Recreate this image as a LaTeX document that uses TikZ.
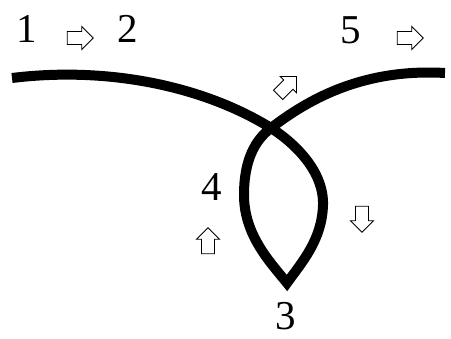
\documentclass[tikz,border=0pt]{standalone}
\usepackage{fontspec}
\setmainfont{Liberation Serif}
\usetikzlibrary{shapes.arrows}
\begin{document}
\begin{tikzpicture}[x=1pt,y=-1pt,
  lbl/.style={font=\fontsize{41}{41}\selectfont, inner sep=0pt},
  blockarrow/.style={single arrow, draw=black, fill=white, line width=0.9pt,
    minimum height=26pt, minimum width=23pt, inner sep=6pt,
    single arrow head extend=5pt},
  rope/.style={line width=10pt, line join=miter, miter limit=20}]
\useasboundingbox (0,0) rectangle (451,339);
% the rope
\draw[rope] (12,78) .. controls (110,66) and (205,87) .. (271,128)
  .. controls (296,144) and (324,172) .. (323,205)
  .. controls (322,240) and (302,262) .. (287,283)
  .. controls (270,262) and (244,235) .. (244,195)
  .. controls (244,160) and (255,140) .. (271,128)
  .. controls (305,102) and (360,68) .. (445,73);
% labels
\node[lbl] (n1) at (27,29) {1};
\node[lbl] (n2) at (128,29) {2};
\node[lbl] (n5) at (351,30) {5};
\node[lbl] (n4) at (212,187) {4};
\node[lbl] (n3) at (286,316) {3};
% block arrows
\node[blockarrow] (a12) at (77,38) {};
\node[blockarrow] (a5) at (407,38) {};
\node[blockarrow, rotate=45] (ad) at (285,88) {};
\node[blockarrow, rotate=-90] (adown) at (362,216) {};
\node[blockarrow, rotate=90] (aup) at (208,244) {};
\end{tikzpicture}
\end{document}
